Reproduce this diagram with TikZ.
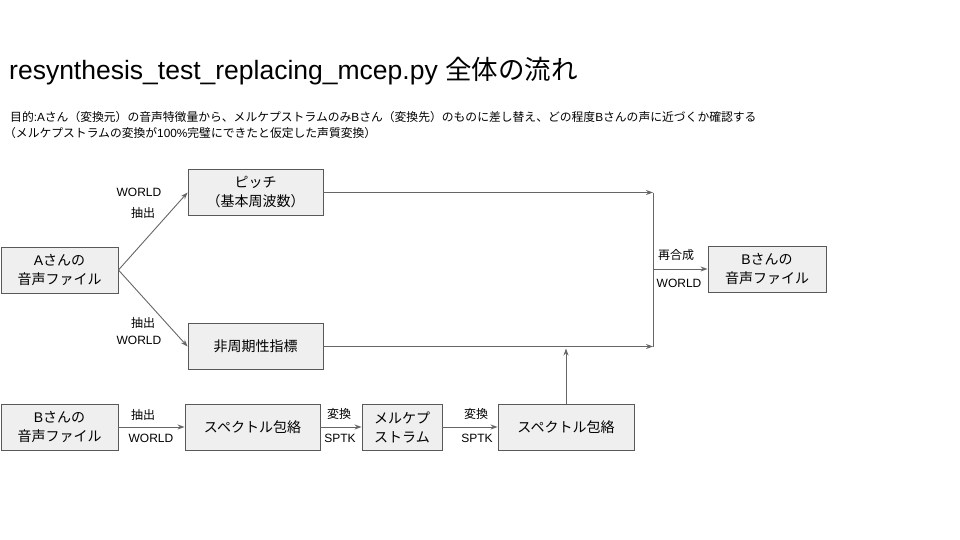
\documentclass[tikz,border=0pt]{standalone}
\usepackage{fontspec}
\setmainfont{Liberation Sans}
\newfontfamily\jp{Noto Sans CJK JP}
\usetikzlibrary{arrows.meta, positioning}
\definecolor{boxfill}{HTML}{EFEFEF}
\definecolor{boxline}{HTML}{595959}
\definecolor{flowline}{HTML}{666666}

\tikzset{
  stagebox/.style={draw=boxline, fill=boxfill, line width=0.9pt, minimum height=46pt,
    align=center, inner sep=0pt, font=\fontsize{14}{19}\selectfont},
  flow/.style={draw=flowline, line width=0.9pt, -{Stealth[length=7pt,width=5pt]}},
  tag/.style={inner sep=0pt, font=\fontsize{12}{14}\selectfont},
}

\begin{document}
\begin{tikzpicture}[x=1pt, y=-1pt]
    \useasboundingbox (0,0) rectangle (960,540);

    % Title and purpose
    \node[anchor=base west, inner sep=0pt, font=\fontsize{26.5}{30}\selectfont] (title) at (9,80)
      {resynthesis\_test\_replacing\_mcep.py {\jp 全体の流れ}};
    \node[anchor=base west, inner sep=0pt, font=\fontsize{11.8}{16}\selectfont] (goal) at (10,122)
      {{\jp 目的}:A{\jp さん（変換元）の音声特徴量から、メルケプストラムのみ}B{\jp さん（変換先）のものに差し替え、どの程度}B{\jp さんの声に近づくか確認する}};
    \node[anchor=base west, inner sep=0pt, font=\fontsize{11.8}{16}\selectfont] (goalnote) at (4,138)
      {{\jp （メルケプストラムの変換が}100\%{\jp 完璧にできたと仮定した声質変換）}};

    % Boxes
    \node[stagebox, minimum width=117pt] (afile) at (59.5,270) {A{\jp さんの}\\{\jp 音声ファイル}};
    \node[stagebox, minimum width=135pt] (pitch) at (255.5,192.5) {{\jp ピッチ}\\{\jp （基本周波数）}};
    \node[stagebox, minimum width=135pt] (aper) at (255.5,346.5) {{\jp 非周期性指標}};
    \node[stagebox, minimum width=117pt] (bfile) at (59.5,427) {B{\jp さんの}\\{\jp 音声ファイル}};
    \node[stagebox, minimum width=135pt] (spec) at (252.5,427) {{\jp スペクトル包絡}};
    \node[stagebox, minimum width=80pt] (mcep) at (402,427) {{\jp メルケプ}\\{\jp ストラム}};
    \node[stagebox, minimum width=136pt] (specb) at (566,427) {{\jp スペクトル包絡}};
    \node[stagebox, minimum width=118pt] (bout) at (767,269) {B{\jp さんの}\\{\jp 音声ファイル}};

    % Junction points
    \coordinate (join) at (653,269);
    \coordinate (jointop) at (pitch.east -| join);
    \coordinate (joinbot) at (aper.east -| join);
    \coordinate (merge) at (specb.north |- aper.east);

    % Connectors
    \draw[flow] (afile.east) -- (pitch.west);
    \draw[flow] (afile.east) -- (aper.west);
    \draw[flow] (pitch.east) -- (jointop);
    \draw[flow] (aper.east) -- (joinbot);
    \draw[draw=flowline, line width=0.9pt] (jointop) -- (joinbot);
    \draw[flow] (join) -- (bout.west);
    \draw[flow, shorten >=2pt] (specb.north) -- (merge);
    \draw[flow] (bfile.east) -- (spec.west);
    \draw[flow] (spec.east) -- (mcep.west);
    \draw[flow] (mcep.east) -- (specb.west);

    % Labels
    \node[tag] (lworlda) at (139,192) {WORLD};
    \node[tag] (lexta) at (143,213) {\jp 抽出};
    \node[tag] (lextb) at (143,323) {\jp 抽出};
    \node[tag] (lworldb) at (139,340) {WORLD};
    \node[tag] (lsynth) at (676,255) {\jp 再合成};
    \node[tag] (lworldc) at (679,283) {WORLD};
    \node[tag] (lextc) at (143,415) {\jp 抽出};
    \node[tag] (lworldd) at (151,438) {WORLD};
    \node[tag] (lconva) at (339,414) {\jp 変換};
    \node[tag] (lsptka) at (340,438) {SPTK};
    \node[tag] (lconvb) at (476,414) {\jp 変換};
    \node[tag] (lsptkb) at (477,438) {SPTK};
\end{tikzpicture}
\end{document}
